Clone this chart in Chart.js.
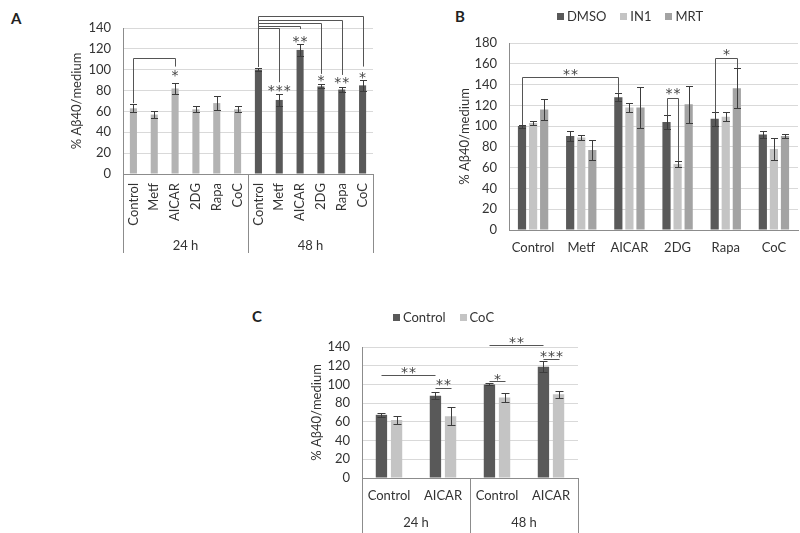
<!DOCTYPE html>
<html>
<head>
<meta charset="utf-8">
<script src="https://cdn.jsdelivr.net/npm/chart.js@4.4.0/dist/chart.umd.min.js"></script>
<style>
  html, body { margin: 0; padding: 0; background: #fff; }
  #wrap { position: relative; width: 800px; height: 533px; overflow: hidden; background: #fff; font-family: Lato, sans-serif; }
  canvas { position: absolute; }
  .letter { position: absolute; font: bold 15px Lato, sans-serif; color: #222; }
</style>
</head>
<body>
<div id="wrap">
  <div class="letter" style="left:11px;top:9px;">A</div>
  <div class="letter" style="left:455px;top:7px;">B</div>
  <div class="letter" style="left:252px;top:307px;">C</div>
  <canvas id="cA" width="390" height="270" style="left:0;top:0;"></canvas>
  <canvas id="cB" width="370" height="270" style="left:430px;top:0;"></canvas>
  <canvas id="cC" width="350" height="233" style="left:250px;top:300px;"></canvas>
</div>
<script>
// ---------------- DATA ----------------
// Panel A
const A_categories = ['Control', 'Metf', 'AICAR', '2DG', 'Rapa', 'CoC'];
const A_groups = ['24 h', '48 h'];
const A_values24 = [63, 57, 82, 62, 68, 62];
const A_err24 = [4, 3, 5, 3, 7, 3];
const A_values48 = [100, 71, 119, 84, 81, 85];
const A_err48 = [1.5, 6, 6, 2, 2.5, 5];
const A_ticks = [0, 20, 40, 60, 80, 100, 120, 140];
// brackets: bar index from/to, top height, drop ends (values)
const A_brackets = [
  { from: 0, to: 2, top: 111, fromEnd: 68, toEnd: 103 },
  { from: 6, to: 7, top: 139.8, fromEnd: 103, toEnd: 88 },
  { from: 6, to: 8, top: 141.7, fromEnd: 103, toEnd: 139 },
  { from: 6, to: 9, top: 144.7, fromEnd: 103, toEnd: 96 },
  { from: 6, to: 10, top: 147.6, fromEnd: 103, toEnd: 95 },
  { from: 6, to: 11, top: 151.5, fromEnd: 103, toEnd: 103 }
];
const A_stars = [
  { at: 2, label: '*', h: 98 },
  { at: 7, label: '***', h: 83.5 },
  { at: 8, label: '**', h: 131 },
  { at: 9, label: '*', h: 93 },
  { at: 10, label: '**', h: 91.5 },
  { at: 11, label: '*', h: 96.4 }
];

// Panel B
const B_categories = ['Control', 'Metf', 'AICAR', '2DG', 'Rapa', 'CoC'];
const B_series = ['DMSO', 'IN1', 'MRT'];
const B_DMSO = [100, 90.5, 127.7, 104, 107, 92];
const B_DMSO_err = [1.5, 5, 4, 6.5, 6.5, 3.5];
const B_IN1 = [103, 89, 118, 63.5, 109, 78];
const B_IN1_err = [1.5, 2, 4, 3, 4.5, 10.5];
const B_MRT = [116, 77, 118, 121, 136.5, 90.5];
const B_MRT_err = [10, 10, 20, 18, 19, 1.5];
const B_ticks = [0, 20, 40, 60, 80, 100, 120, 140, 160, 180];
const B_brackets = [
  { from: [0, 0], to: [0, 2], top: 147, fromEnd: 101, toEnd: 132, label: '**', labelH: 153 },
  { from: [0, 3], to: [1, 3], top: 126.7, fromEnd: 110.5, toEnd: 66.5, label: '**', labelH: 135 },
  { from: [0, 4], to: [2, 4], top: 166, fromEnd: 113, toEnd: 156, label: '*', labelH: 173 }
];

// Panel C
const C_categories = ['Control', 'AICAR', 'Control', 'AICAR'];
const C_groups = ['24 h', '48 h'];
const C_series = ['Control', 'CoC'];
const C_Control = [67.5, 88, 100, 119];
const C_Control_err = [2.5, 4, 1, 6];
const C_CoC = [62, 66, 86, 89.5];
const C_CoC_err = [4, 9.5, 5, 4];
const C_ticks = [0, 20, 40, 60, 80, 100, 120, 140];
const C_lines = [
  { from: [0, 0], to: [0, 1], top: 109.6, label: '**', labelH: 117 },
  { from: [0, 1], to: [1, 1], top: 95.7, label: '**', labelH: 103.5 },
  { from: [0, 2], to: [1, 2], top: 103.5, label: '*', labelH: 109.5 },
  { from: [0, 2], to: [0, 3], top: 142.5, label: '**', labelH: 148.5 },
  { from: [0, 3], to: [1, 3], top: 127.7, label: '***', labelH: 134 }
];

// ---------------- STYLE ----------------
const FONT = 'Lato, sans-serif';
const TXT = '#333333';
const GRID = '#d9d9d9';
const AXIS = '#8c8c8c';
const DARK = '#595959';
const LIGHT = '#c4c4c4';
const MID = '#a3a3a3';
const A_LIGHT = '#b3b3b3';
const LINE = '#555555';
Chart.defaults.font.family = FONT;
Chart.defaults.font.size = 13;
Chart.defaults.color = TXT;
Chart.defaults.animation = false;

function drawStars(ctx, x, yc, label) {
  ctx.save();
  ctx.fillStyle = '#444';
  ctx.font = '14px "DejaVu Sans"';
  ctx.textAlign = 'center';
  ctx.textBaseline = 'alphabetic';
  const n = label.length, sp = 8;
  for (let k = 0; k < n; k++) ctx.fillText('*', x + (k - (n - 1) / 2) * sp, yc + 8.3);
  ctx.restore();
}

const annotPlugin = {
  id: 'annot',
  afterDatasetsDraw(chart, args, o) {
    const ctx = chart.ctx;
    const ys = chart.scales.y, xs = chart.scales.x;
    const ca = chart.chartArea;
    const px = (d, i) => chart.getDatasetMeta(d).data[i].x;
    ctx.save();
    // error bars
    (o.errors || []).forEach((errs, d) => {
      const ds = chart.data.datasets[d];
      errs.forEach((e, i) => {
        const v = ds.data[i];
        if (v == null || e == null) return;
        const x = px(d, i);
        const yt = Math.round(ys.getPixelForValue(v + e)) + 0.5;
        const yb = Math.round(ys.getPixelForValue(v - e)) + 0.5;
        const xr = Math.round(x) + 0.5;
        ctx.strokeStyle = '#3c3c3c';
        ctx.lineWidth = 1;
        ctx.beginPath();
        ctx.moveTo(xr, yt); ctx.lineTo(xr, yb);
        ctx.moveTo(xr - o.cap, yt); ctx.lineTo(xr + o.cap, yt);
        ctx.moveTo(xr - o.cap, yb); ctx.lineTo(xr + o.cap, yb);
        ctx.stroke();
      });
    });
    // brackets
    ctx.strokeStyle = LINE;
    ctx.lineWidth = 1;
    (o.brackets || []).forEach(b => {
      const f = Array.isArray(b.from) ? b.from : [0, b.from];
      const t = Array.isArray(b.to) ? b.to : [0, b.to];
      const x1 = Math.round(px(f[0], f[1])) + 0.5, x2 = Math.round(px(t[0], t[1])) + 0.5;
      const yT = Math.round(ys.getPixelForValue(b.top)) + 0.5;
      ctx.beginPath();
      if (b.fromEnd != null) { ctx.moveTo(x1, ys.getPixelForValue(b.fromEnd)); ctx.lineTo(x1, yT); }
      else ctx.moveTo(x1, yT);
      ctx.lineTo(x2, yT);
      if (b.toEnd != null) ctx.lineTo(x2, ys.getPixelForValue(b.toEnd));
      ctx.stroke();
      if (b.label) drawStars(ctx, (x1 + x2) / 2, ys.getPixelForValue(b.labelH), b.label);
    });
    (o.stars || []).forEach(s => {
      drawStars(ctx, px(0, s.at), ys.getPixelForValue(s.h), s.label);
    });
    // group boxes below x axis
    if (o.groups) {
      const g = o.groups;
      const n = chart.data.labels.length;
      const per = n / g.labels.length;
      const bnd = [ca.left];
      for (let k = 1; k < g.labels.length; k++) {
        bnd.push((xs.getPixelForValue(k * per - 1) + xs.getPixelForValue(k * per)) / 2);
      }
      bnd.push(ca.right);
      ctx.strokeStyle = AXIS;
      ctx.beginPath();
      bnd.forEach(x => {
        const xr = Math.round(x) + 0.5;
        ctx.moveTo(xr, ca.bottom); ctx.lineTo(xr, ca.bottom + g.depth);
      });
      ctx.stroke();
      ctx.fillStyle = TXT;
      ctx.font = '13px ' + FONT;
      ctx.textAlign = 'center';
      ctx.textBaseline = 'middle';
      g.labels.forEach((lab, k) => ctx.fillText(lab, (bnd[k] + bnd[k + 1]) / 2, ca.bottom + g.labelY));
    }
    // legend
    if (o.legend) {
      const L = o.legend;
      ctx.font = '13px ' + FONT;
      ctx.textBaseline = 'middle';
      ctx.textAlign = 'left';
      const items = chart.data.datasets.map(d => ({ t: d.label, c: d.backgroundColor, w: ctx.measureText(d.label).width }));
      const total = items.reduce((s, it) => s + 7 + 3 + it.w, 0) + (items.length - 1) * 14;
      let x = L.cx - total / 2;
      items.forEach(it => {
        ctx.fillStyle = it.c;
        ctx.fillRect(Math.round(x), Math.round(L.y - 3.5), 7, 7);
        ctx.fillStyle = TXT;
        ctx.fillText(it.t, x + 10, L.y + 0.5);
        x += 7 + 3 + it.w + 14;
      });
    }
    ctx.restore();
  }
};

function yScale(ticks, titlePad, width) {
  return {
    min: ticks[0], max: ticks[ticks.length - 1],
    afterBuildTicks: s => { s.ticks = ticks.map(v => ({ value: v })); },
    grid: { color: GRID, drawTicks: false },
    border: { color: AXIS },
    ticks: { padding: 12, color: TXT, font: { size: 13 } },
    title: { display: true, text: '% Aβ40/medium', color: TXT, font: { size: 13 }, padding: { top: titlePad, bottom: 0 } },
    afterFit: s => { s.width = width; }
  };
}
function xScale(height, pad, rot) {
  return {
    grid: { display: false, drawTicks: false },
    border: { color: AXIS },
    ticks: { padding: pad, autoSkip: false, maxRotation: rot, minRotation: rot, color: TXT, font: { size: 13 } },
    afterFit: s => { s.height = height; }
  };
}

// ---------------- PANEL A ----------------
new Chart(document.getElementById('cA'), {
  type: 'bar',
  data: {
    labels: [...A_categories, ...A_categories],
    datasets: [{
      label: '% Aβ40/medium',
      data: [...A_values24, ...A_values48],
      backgroundColor: [...A_values24.map(() => A_LIGHT), ...A_values48.map(() => DARK)],
      categoryPercentage: 1, barPercentage: 0.34
    }]
  },
  options: {
    responsive: false,
    layout: { padding: { top: 28, right: 17, left: 0, bottom: 0 } },
    plugins: {
      legend: { display: false }, tooltip: { enabled: false },
      annot: {
        errors: [[...A_err24, ...A_err48]], cap: 3.5,
        brackets: A_brackets, stars: A_stars,
        groups: { labels: A_groups, depth: 79, labelY: 72 }
      }
    },
    scales: { x: xScale(96, 9, 90), y: yScale(A_ticks, 69, 123) }
  },
  plugins: [annotPlugin]
});

// ---------------- PANEL B ----------------
new Chart(document.getElementById('cB'), {
  type: 'bar',
  data: {
    labels: B_categories,
    datasets: [
      { label: B_series[0], data: B_DMSO, backgroundColor: DARK },
      { label: B_series[1], data: B_IN1, backgroundColor: LIGHT },
      { label: B_series[2], data: B_MRT, backgroundColor: MID }
    ]
  },
  options: {
    responsive: false,
    datasets: { bar: { categoryPercentage: 0.69, barPercentage: 0.74 } },
    layout: { padding: { top: 43, right: 2, left: 0, bottom: 0 } },
    plugins: {
      legend: { display: false }, tooltip: { enabled: false },
      annot: {
        errors: [B_DMSO_err, B_IN1_err, B_MRT_err], cap: 3.5,
        brackets: B_brackets,
        legend: { cx: 200, y: 16 }
      }
    },
    scales: { x: xScale(40, 10, 0), y: yScale(B_ticks, 27, 79) }
  },
  plugins: [annotPlugin]
});

// ---------------- PANEL C ----------------
new Chart(document.getElementById('cC'), {
  type: 'bar',
  data: {
    labels: C_categories,
    datasets: [
      { label: C_series[0], data: C_Control, backgroundColor: DARK },
      { label: C_series[1], data: C_CoC, backgroundColor: LIGHT }
    ]
  },
  options: {
    responsive: false,
    datasets: { bar: { categoryPercentage: 0.56, barPercentage: 0.75 } },
    layout: { padding: { top: 47, right: 22, left: 0, bottom: 0 } },
    plugins: {
      legend: { display: false }, tooltip: { enabled: false },
      annot: {
        errors: [C_Control_err, C_CoC_err], cap: 4,
        brackets: C_lines,
        groups: { labels: C_groups, depth: 60, labelY: 45 },
        legend: { cx: 193.5, y: 17.5 }
      }
    },
    scales: { x: xScale(55, 10.5, 0), y: yScale(C_ticks, 59, 112) }
  },
  plugins: [annotPlugin]
});
</script>
</body>
</html>
